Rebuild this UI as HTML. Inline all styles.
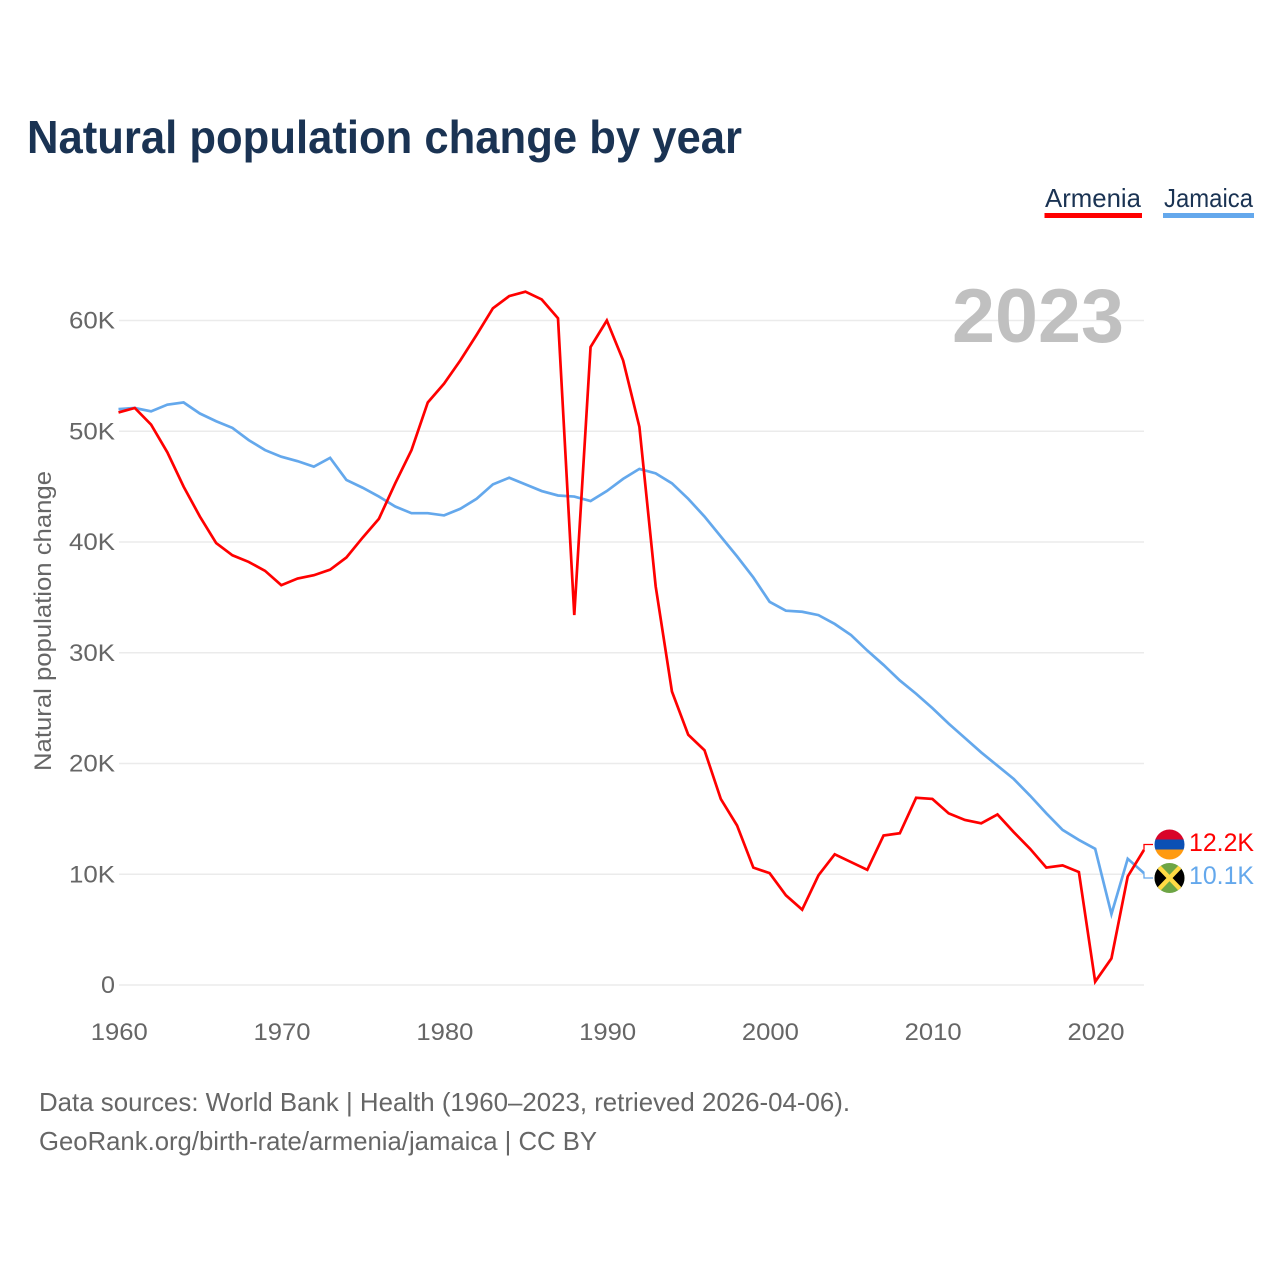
<!DOCTYPE html>
<html lang="en">
<head>
<meta charset="utf-8">
<title>Natural population change by year</title>
<style>
html,body{margin:0;padding:0;background:#fff;}
svg{display:block;font-family:"Liberation Sans",sans-serif;}
</style>
</head>
<body>
<svg id="chart" xmlns="http://www.w3.org/2000/svg" width="1280" height="1280" viewBox="0 0 1280 1280">
  <defs>
    <clipPath id="clip-am"><circle cx="1169.5" cy="844.5" r="15"/></clipPath>
    <clipPath id="clip-jm"><circle cx="1169.5" cy="878" r="15"/></clipPath>
  </defs>
  <rect width="1280" height="1280" fill="#fff"/>
  <text x="27" y="153" font-size="46" font-weight="700" fill="#1a3353" textLength="715" lengthAdjust="spacingAndGlyphs">Natural population change by year</text>

  <g>
    <text x="1045" y="207" font-size="26" fill="#1a3353" textLength="96" lengthAdjust="spacingAndGlyphs">Armenia</text>
    <rect x="1044.5" y="213" width="97.5" height="5" fill="#ff0000"/>
  </g>
  <g>
    <text x="1164" y="207" font-size="26" fill="#1a3353" textLength="89" lengthAdjust="spacingAndGlyphs">Jamaica</text>
    <rect x="1163" y="213" width="91" height="5" fill="#64a8ec"/>
  </g>

  <g id="grid"></g>
  <g id="yticks"></g>
  <g id="xticks"></g>

  <text x="952" y="342" font-size="76" font-weight="700" fill="#c0c0c0" textLength="172" lengthAdjust="spacingAndGlyphs">2023</text>
  <text transform="translate(51 771) rotate(-90)" font-size="24" fill="#666" textLength="300" lengthAdjust="spacingAndGlyphs">Natural population change</text>

  <polyline id="line-jamaica" fill="none" stroke="#64a8ec" stroke-width="2.7" stroke-linejoin="miter"/>
  <polyline id="line-armenia" fill="none" stroke="#ff0000" stroke-width="2.7" stroke-linejoin="miter"/>
  <polyline id="connector-armenia" fill="none" stroke="#ff0000" stroke-width="1.3"/>
  <polyline id="connector-jamaica" fill="none" stroke="#64a8ec" stroke-width="1.3"/>

  <g clip-path="url(#clip-am)">
    <rect x="1154" y="829" width="31" height="11" fill="#d90429"/>
    <rect x="1154" y="839.5" width="31" height="10.5" fill="#0b50b4"/>
    <rect x="1154" y="849.5" width="31" height="11" fill="#ff9a10"/>
  </g>
  <g clip-path="url(#clip-jm)">
    <rect x="1154" y="862" width="31" height="32" fill="#6da544"/>
    <polygon points="1154,862 1170,878 1154,894" fill="#000"/>
    <polygon points="1185,862 1170,878 1185,894" fill="#000"/>
    <path d="M1157 865L1182 891M1182 865L1157 891" stroke="#ffda44" stroke-width="4.5" fill="none"/>
  </g>
  <text id="value-armenia" x="1189" y="851" font-size="25" fill="#ff0000" textLength="65" lengthAdjust="spacingAndGlyphs"></text>
  <text id="value-jamaica" x="1189" y="884" font-size="25" fill="#64a8ec" textLength="65" lengthAdjust="spacingAndGlyphs"></text>

  <text x="39" y="1111" font-size="26" fill="#666" textLength="811" lengthAdjust="spacingAndGlyphs">Data sources: World Bank | Health (1960–2023, retrieved 2026-04-06).</text>
  <text x="39" y="1150" font-size="26" fill="#666" textLength="558" lengthAdjust="spacingAndGlyphs">GeoRank.org/birth-rate/armenia/jamaica | CC BY</text>
</svg>
<script>
const firstYear = 1960;
const yTickValues = [0, 10, 20, 30, 40, 50, 60];
const xTickValues = [1960, 1970, 1980, 1990, 2000, 2010, 2020];
const armeniaValues = [51.7,52.1,50.6,48.1,45.0,42.3,39.9,38.8,38.2,37.4,36.1,36.7,37.0,37.5,38.6,40.4,42.1,45.3,48.3,52.6,54.3,56.4,58.7,61.1,62.2,62.6,61.9,60.2,33.4,57.6,60.0,56.4,50.4,36.0,26.5,22.6,21.2,16.8,14.4,10.6,10.1,8.1,6.8,9.9,11.8,11.1,10.4,13.5,13.7,16.9,16.8,15.5,14.9,14.6,15.4,13.8,12.3,10.6,10.8,10.2,0.3,2.4,9.8,12.2];
const jamaicaValues = [52.0,52.1,51.8,52.4,52.6,51.6,50.9,50.3,49.2,48.3,47.7,47.3,46.8,47.6,45.6,44.9,44.1,43.2,42.6,42.6,42.4,43.0,43.9,45.2,45.8,45.2,44.6,44.2,44.1,43.7,44.6,45.7,46.6,46.2,45.3,43.9,42.3,40.5,38.7,36.8,34.6,33.8,33.7,33.4,32.6,31.6,30.2,28.9,27.5,26.3,25.0,23.6,22.3,21.0,19.8,18.6,17.1,15.5,14.0,13.1,12.3,6.4,11.4,10.1];

const NS = 'http://www.w3.org/2000/svg';
const xScale = function (year) { return 118.5 + (year - 1960) * (1144 - 118.5) / 63; };
const yScale = function (v) { return 985 - v * 11.075; };
const pointsFor = function (values) {
  return values.map(function (v, i) {
    return xScale(firstYear + i).toFixed(2) + ',' + yScale(v).toFixed(2);
  }).join(' ');
};

document.getElementById('line-armenia').setAttribute('points', pointsFor(armeniaValues));
document.getElementById('line-jamaica').setAttribute('points', pointsFor(jamaicaValues));

const lastX = xScale(firstYear + armeniaValues.length - 1);
const lastArm = armeniaValues[armeniaValues.length - 1];
const lastJam = jamaicaValues[jamaicaValues.length - 1];
document.getElementById('connector-armenia').setAttribute('points', lastX + ',' + yScale(lastArm) + ' ' + lastX + ',844.5 1153,844.5');
document.getElementById('connector-jamaica').setAttribute('points', lastX + ',' + yScale(lastJam) + ' ' + lastX + ',878 1153,878');
document.getElementById('value-armenia').textContent = lastArm.toFixed(1) + 'K';
document.getElementById('value-jamaica').textContent = lastJam.toFixed(1) + 'K';

const grid = document.getElementById('grid');
const yticks = document.getElementById('yticks');
yTickValues.forEach(function (v) {
  const line = document.createElementNS(NS, 'line');
  
  
  line.setAttribute('x1', 119);
  line.setAttribute('x2', 1144);
  line.setAttribute('y1', yScale(v));
  line.setAttribute('y2', yScale(v));
  line.setAttribute('stroke', '#ebebeb');
  line.setAttribute('stroke-width', '1.5');
  grid.appendChild(line);

  const label = document.createElementNS(NS, 'text');
  
  
  const s = v === 0 ? '0' : v + 'K';
  const w = v === 0 ? 14 : 46;
  label.setAttribute('x', 115 - w);
  label.setAttribute('y', yScale(v) + 8);
  label.setAttribute('font-size', '24');
  label.setAttribute('fill', '#666');
  label.setAttribute('textLength', w);
  label.setAttribute('lengthAdjust', 'spacingAndGlyphs');
  label.textContent = s;
  yticks.appendChild(label);
});

const xticks = document.getElementById('xticks');
xTickValues.forEach(function (year) {
  const label = document.createElementNS(NS, 'text');
  
  
  label.setAttribute('x', xScale(year) - 27.7);
  label.setAttribute('y', 1040);
  label.setAttribute('font-size', '24');
  label.setAttribute('fill', '#666');
  label.setAttribute('textLength', 57);
  label.setAttribute('lengthAdjust', 'spacingAndGlyphs');
  label.textContent = String(year);
  xticks.appendChild(label);
});
</script>
</body>
</html>
